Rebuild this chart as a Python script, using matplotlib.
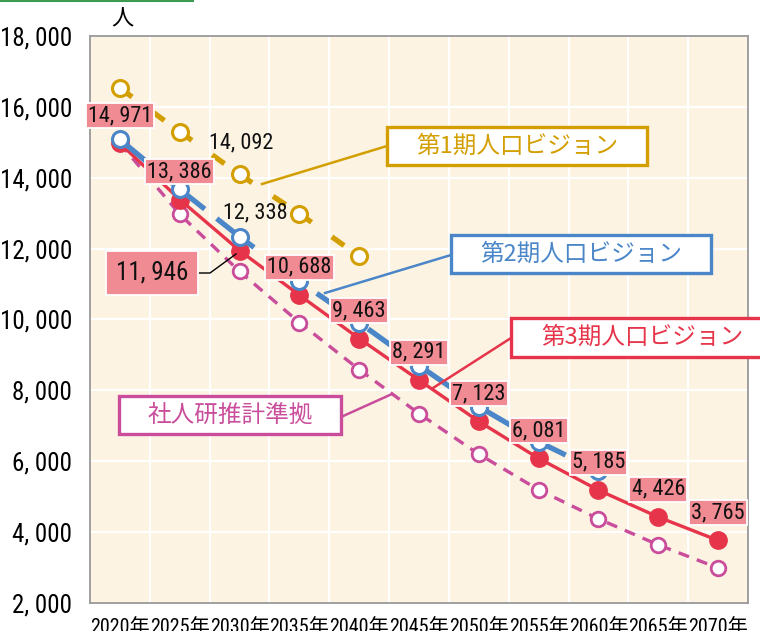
import matplotlib
matplotlib.use("Agg")
import matplotlib.pyplot as plt
from matplotlib import font_manager
from matplotlib.patches import Rectangle
from matplotlib.lines import Line2D

plt.rcParams['lines.scale_dashes'] = False

entries = [(f.name, f.stretch, f.fname) for f in font_manager.fontManager.ttflist]
names = {e[0] for e in entries}
NUM, STRETCH = 'DejaVu Sans', 'condensed'
for cand in ['Liberation Sans Narrow', 'Roboto Condensed', 'Open Sans Condensed',
             'Noto Sans Condensed', 'DejaVu Sans Condensed']:
    if cand in names:
        NUM, STRETCH = cand, 'normal'
        break
else:
    cond = [e for e in entries if ('Condensed' in e[0] or 'Narrow' in e[0])]
    if cond:
        NUM, STRETCH = cond[0][0], 'normal'
CJK = 'Noto Sans CJK JP'
NARROW = NUM in ('Liberation Sans Narrow', 'Roboto Condensed')
K = 1.0 if NARROW else 0.86   # size factor if only a wider face is available

# ---------------- data ----------------
years = [2020, 2025, 2030, 2035, 2040, 2045, 2050, 2055, 2060, 2065, 2070]
year_labels = [f"{y}年" for y in years]
vision1 = [16530, 15300, 14092, 12990, 11781]                       # 第1期 (2020-2040)
vision2 = [15080, 13675, 12338, 11075, 9915, 8700, 7541, 6551, 5720]  # 第2期 (2020-2060)
vision3 = [14971, 13386, 11946, 10688, 9463, 8291, 7123, 6081, 5185, 4426, 3765]  # 第3期
ipss = [14971, 12968, 11357, 9915, 8587, 7343, 6200, 5194, 4375, 3640, 2989]     # 社人研推計準拠
yticks = [2000, 4000, 6000, 8000, 10000, 12000, 14000, 16000, 18000]

C1 = '#D39E00'
C2 = '#4A86C8'
C3 = '#E6354A'
CP = '#C94D9B'
LABEL_FILL = '#F08A93'
BG = '#FDF3E2'

def fmt(v):
    return f"{v:,}".replace(",", ", ")

NUMFONT = dict(family=[NUM, CJK], stretch=STRETCH)

W, H = 760, 631
fig = plt.figure(figsize=(W / 100, H / 100), dpi=100)
ax = fig.add_axes([90 / W, 1 - 603 / H, 658 / W, 567 / H])
ax.set_facecolor(BG)
ax.set_xlim(2017.5, 2072.5)
ax.set_ylim(2000, 18000)

# grid
ax.set_xticks([y + 2.5 for y in years[:-1]], minor=True)
ax.grid(True, which='minor', axis='x', color='white', lw=1.5)
ax.set_yticks(yticks)
ax.grid(True, which='major', axis='y', color='white', lw=1.5)
ax.set_axisbelow(True)
ax.set_xticks(years)
ax.set_xticklabels(year_labels, fontsize=14.5 * K, **NUMFONT)
ax.set_yticklabels([fmt(v) for v in yticks], fontsize=18 * K, **NUMFONT)
ax.tick_params(axis='both', which='both', length=0)
ax.tick_params(axis='x', pad=11)
ax.tick_params(axis='y', pad=13)
for s in ax.spines.values():
    s.set_color('#999999')
    s.set_linewidth(1.3)

# 社人研推計準拠 (pink dashed)
ax.plot(years[:len(ipss)], ipss, color=CP, lw=2.4, dashes=(8, 6), zorder=3,
        marker='o', ms=10.5, mfc='white', mec=CP, mew=2, solid_capstyle='butt')

# 第1期 (yellow dashed, pattern restarting at each marker)
for i in range(len(vision1) - 1):
    ax.plot(years[i:i + 2], vision1[i:i + 2], color=C1, lw=3.8,
            dashes=(10.8, 18), dash_capstyle='butt', zorder=4)
ax.plot(years[:len(vision1)], vision1, ls='none', marker='o', ms=11.5,
        mfc='white', mec=C1, mew=2.2, zorder=5)

# 第3期 (red solid)
ax.plot(years, vision3, color=C3, lw=2.4, zorder=5,
        marker='o', ms=12.5, mfc=C3, mec=C3, mew=1)

# 第2期 (blue dashed)
ax.plot(years[:len(vision2)], vision2, color=C2, lw=3.8, dashes=(34, 11),
        dash_capstyle='butt', zorder=6)
ax.plot(years[:len(vision2)], vision2, ls='none', marker='o', ms=11.5,
        mfc='white', mec=C2, mew=2.2, zorder=7)

# value labels for 第3期
for i, (x, v) in enumerate(zip(years, vision3)):
    if i == 2:
        continue
    ax.annotate(fmt(v), (x, v), xytext=(0, 20), textcoords='offset points',
                ha='center', va='center', fontsize=16 * K, color='#111111',
                zorder=10, **NUMFONT,
                bbox=dict(boxstyle='square,pad=0.1', fc=LABEL_FILL, ec='white', lw=1.3))

# 11,946 with leader
ax.annotate(fmt(vision3[2]), (years[2], vision3[2]), xytext=(-63, -16),
            textcoords='offset points', ha='center', va='center',
            fontsize=18 * K, color='#111111', zorder=10, **NUMFONT,
            bbox=dict(boxstyle='square,pad=0.4', fc=LABEL_FILL, ec='white', lw=1.3))
ax.add_line(Line2D([(199 - 90) / 658, (210 - 90) / 658, (236 - 90) / 658],
                   [(603 - 273) / 567, (603 - 273) / 567, (603 - 254) / 567],
                   transform=ax.transAxes, color='black', lw=1, zorder=9))

# plain labels for 第1期 2030 and 第2期 2030
ax.annotate(fmt(vision1[2]), (years[2], vision1[2]), xytext=(1, 23), textcoords='offset points',
            ha='center', va='center', fontsize=16 * K, color='#111111', zorder=10, **NUMFONT)
ax.annotate(fmt(vision2[2]), (years[2], vision2[2]), xytext=(11, 17), textcoords='offset points',
            ha='center', va='center', fontsize=16 * K, color='#111111', zorder=10, **NUMFONT)

# callout boxes (pixel positions converted to axes fraction)
def fx(px):
    return (px - 90) / 658

def fy(py):
    return (603 - py) / 567

def callout(text, color, x0, y0, x1, y1, tx, lead):
    ax.add_patch(Rectangle((fx(x0), fy(y1)), fx(x1) - fx(x0), fy(y0) - fy(y1),
                           transform=ax.transAxes, fc='white', ec=color, lw=2.4,
                           clip_on=False, zorder=11))
    ax.text(fx(tx), fy((y0 + y1) / 2), text, transform=ax.transAxes, ha='center',
            va='center', color=color, fontsize=17, family=[CJK], zorder=12)
    ax.add_line(Line2D([fx(p[0]) for p in lead], [fy(p[1]) for p in lead],
                       transform=ax.transAxes, color=color, lw=1.8, zorder=9,
                       clip_on=False))

callout('第1期人口ビジョン', C1, 387, 127, 647, 165, 517, [(262, 184), (387, 146)])
callout('第2期人口ビジョン', C2, 451, 235, 711, 273, 581, [(325, 293), (451, 255)])
callout('第3期人口ビジョン', C3, 511, 318, 775, 357, 642, [(433, 388), (511, 338)])
callout('社人研推計準拠', CP, 119, 396, 341, 434, 230, [(341, 417), (392, 394)])

# unit label
fig.text(122 / W, 1 - 19 / H, '人', family=[CJK], fontsize=16, ha='center', va='center')

# green rule at top-left
fig.add_artist(Line2D([0, 193 / W], [1 - 0.8 / H, 1 - 0.8 / H], color='#3C9A55', lw=1.5))

fig.savefig('out.png', dpi=100)
